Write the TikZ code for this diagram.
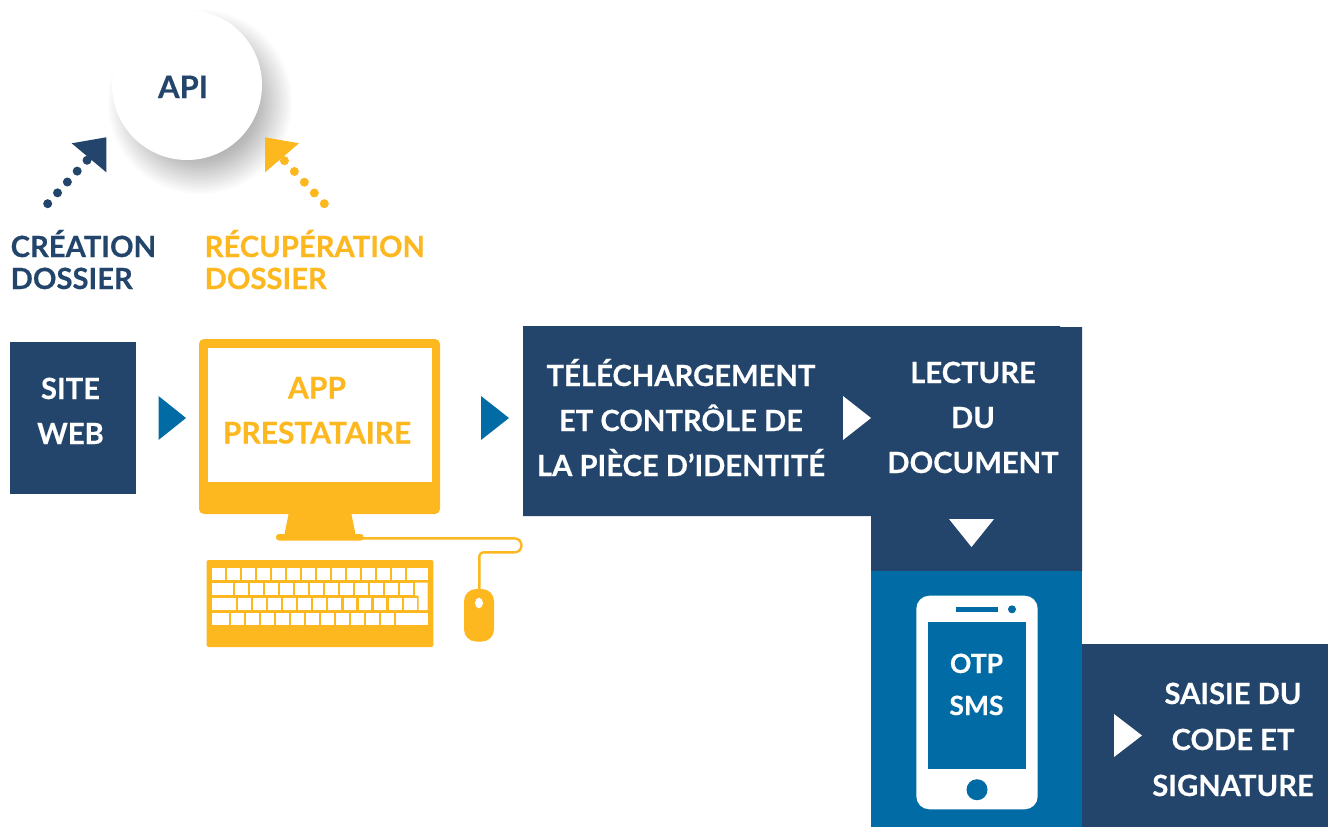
\documentclass[tikz,border=0pt]{standalone}
\usepackage{fontspec}
\setmainfont{Lato}[BoldFeatures={FakeBold=0.4}]
\definecolor{navy}{HTML}{23456B}
\definecolor{gold}{HTML}{FCB81E}
\definecolor{sea}{HTML}{006BA4}
\tikzset{
  lblw/.style={anchor=base,inner sep=0pt,font=\fontsize{29.2}{29.2}\selectfont\bfseries,text=white},
  lbly/.style={lblw,text=gold},
  lbln/.style={lblw,text=navy},
  dotline/.style={line width=9pt,line cap=round,dash pattern=on 0pt off 14.65pt},
  key/.style={fill=white,draw=none},
}
\begin{document}
\begin{tikzpicture}[x=1pt,y=-1pt]
\useasboundingbox (0,0) rectangle (1328,827);
\fill[white] (0,0) rectangle (1328,827);
% API circle with soft shadow
\foreach \r in {56,58,...,92}{
  \fill[black,opacity=0.016] (200,102) circle[radius=\r];
}
\node[circle,fill=white,minimum size=150pt,inner sep=0pt] (api) at (187,85) {};
\node[lbln,font=\fontsize{31}{31}\selectfont\bfseries] (apitxt) at (183,98) {API};
% dotted arrows
\coordinate (a1) at (47.7,203.7);
\coordinate (a2) at (90,157);
\coordinate (b1) at (324.3,203.7);
\coordinate (b2) at (281,157);
\draw[navy,dotline] (a1) -- (a2);
\draw[gold,dotline] (b1) -- (b2);
\fill[navy] (71.7,143.3) -- (106.3,137.3) -- (106.3,172.3) -- cycle;
\fill[gold] (299,143.3) -- (265,137.3) -- (265,172.3) -- cycle;
% top labels
\node[lbln,anchor=base west] (c1) at (10.5,257) {CRÉATION};
\node[lbln,anchor=base west] (c2) at (10.5,289) {DOSSIER};
\node[lbly,anchor=base west] (r1) at (204.5,257) {RÉCUPÉRATION};
\node[lbly,anchor=base west] (r2) at (204.5,289) {DOSSIER};
% site web
\fill[navy] (10,342) rectangle (136,494);
\node[lblw] (s1) at (70.5,399) {SITE};
\node[lblw] (s2) at (70.5,444) {WEB};
% triangles
\fill[sea] (158.5,396) -- (186,418) -- (158.5,440) -- cycle;
\fill[sea] (481,396) -- (509,418) -- (481,440) -- cycle;
% monitor
\fill[gold,rounded corners=5pt] (199,339) rectangle (440,514);
\fill[white] (208,348) rectangle (432,482);
\fill[gold] (289,512) -- (351,512) -- (355.7,535) -- (284.3,535) -- cycle;
\fill[gold,rounded corners=3pt] (276,540.5) -- (276,534) -- (363.7,534) -- (363.7,540.5) -- cycle;
\node[lbly,font=\fontsize{30}{30}\selectfont\bfseries] (p1) at (317,398.5) {APP};
\node[lbly,font=\fontsize{30}{30}\selectfont\bfseries] (p2) at (317,443.5) {PRESTATAIRE};
% keyboard
\fill[gold,rounded corners=1.5pt] (206.7,560) rectangle (433.3,647);
\foreach \i in {0,...,12}{\fill[key] ({212+15.03*\i},567.5) rectangle ++(12.9,12.7);}
\fill[key] (407.3,567.5) rectangle (427.5,580.2);
\fill[key] (212,582.5) rectangle (232.5,595.2);
\foreach \i in {0,...,11}{\fill[key] ({234.7+15.03*\i},582.5) rectangle ++(12.9,12.7);}
\fill[key] (415,582.5) -- (427.5,582.5) -- (427.5,610.2) -- (418.7,610.2) -- (418.7,595.5) -- (415,595.5) -- cycle;
\fill[key] (212,597.5) rectangle (235.9,610.2);
\foreach \i in {0,...,11}{\fill[key] ({238.3+15.03*\i},597.5) rectangle ++(12.9,12.7);}
\fill[key] (212,612.5) rectangle (228.5,625.2);
\foreach \i in {0,...,10}{\fill[key] ({231+15.03*\i},612.5) rectangle ++(12.9,12.7);}
\fill[key] (396,612.5) rectangle (427.5,625.2);
% mouse
\fill[gold,rounded corners=12pt] (464,589) rectangle (494,641.5);
\fill[white] (479,603) ellipse[x radius=4,y radius=5.3];
\coordinate (cabA) at (360,538.4);
\coordinate (cabB) at (479.3,592);
\draw[gold,line width=2.4pt,rounded corners=4pt] (cabB) -- (479.3,552.4) -- (514.5,552.4);
\draw[gold,line width=2.4pt] (cabA) -- (514.5,538.4) arc[start angle=-90,end angle=90,radius=7];
% big navy block
\fill[navy] (523,326) -- (1060,326) -- (1060,327) -- (1082,327) -- (1082,571) -- (871,571) -- (871,516) -- (523,516) -- cycle;
\node[lblw] (t1) at (681,386) {TÉLÉCHARGEMENT};
\node[lblw] (t2) at (681,431) {ET CONTRÔLE DE};
\node[lblw] (t3) at (681,476) {LA PIÈCE D’IDENTITÉ};
\fill[white] (843,396) -- (871,418) -- (843,440) -- cycle;
\node[lblw] (l1) at (973,383) {LECTURE};
\node[lblw] (l2) at (973,428) {DU};
\node[lblw] (l3) at (973,473) {DOCUMENT};
\fill[white] (949,519) -- (994,519) -- (971.5,547) -- cycle;
% blue block and phone
\fill[sea] (871,571) rectangle (1082,827);
\fill[white,rounded corners=13pt] (916.3,595.7) rectangle (1037.7,809.3);
\fill[sea] (928.3,622) rectangle (1026,769);
\fill[sea] (956.3,607) rectangle (998,611.7);
\fill[sea] (1012,609.3) circle[radius=4];
\fill[sea] (977,789.7) circle[radius=10.5];
\node[lblw,font=\fontsize{26.5}{26.5}\selectfont\bfseries] (o1) at (976.5,673) {OTP};
\node[lblw,font=\fontsize{26.5}{26.5}\selectfont\bfseries] (o2) at (976.5,715) {SMS};
% final block
\fill[navy] (1082,644) rectangle (1328,827);
\fill[white] (1114,714) -- (1142,735.5) -- (1114,757) -- cycle;
\node[lblw] (f1) at (1233,704) {SAISIE DU};
\node[lblw] (f2) at (1233,750) {CODE ET};
\node[lblw] (f3) at (1233,796) {SIGNATURE};
\end{tikzpicture}
\end{document}
